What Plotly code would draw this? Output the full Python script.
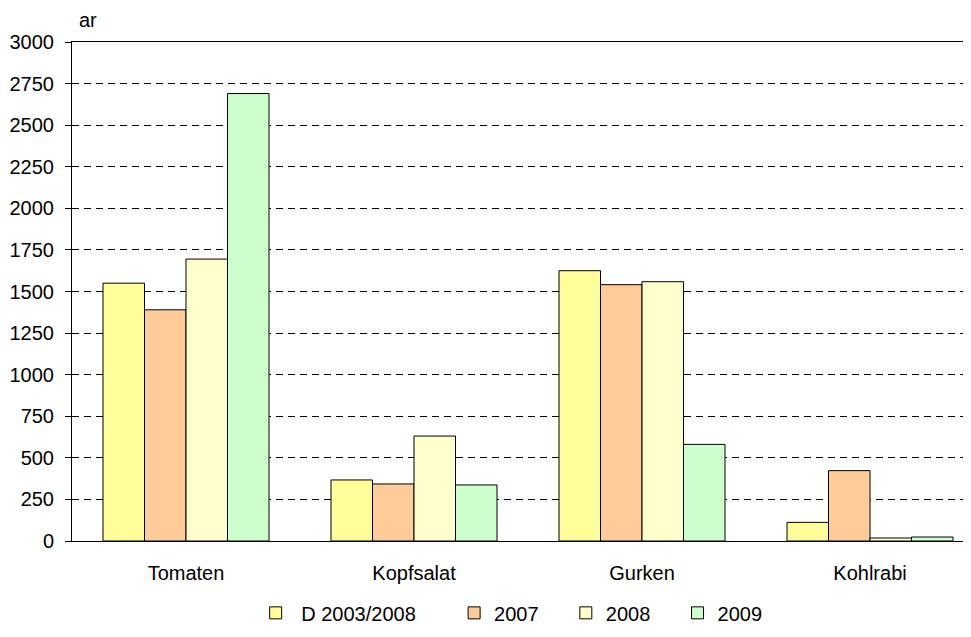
import plotly.graph_objects as go

categories = ["Tomaten", "Kopfsalat", "Gurken", "Kohlrabi"]
series_names = ["D 2003/2008", "2007", "2008", "2009"]
d_2003_2008 = [1550, 367, 1625, 112]
y_2007 = [1390, 343, 1541, 423]
y_2008 = [1695, 631, 1559, 18]
y_2009 = [2690, 337, 581, 24]
y_ticks = [0, 250, 500, 750, 1000, 1250, 1500, 1750, 2000, 2250, 2500, 2750, 3000]

colors = ["#FFFF99", "#FFCC99", "#FFFFCC", "#CCFFCC"]
pad_before = [1, 0, 0, 0]
pad_after = [6, 4, 4, 0]
labels = ["\u00a0" * b + n + "\u00a0" * a for n, b, a in zip(series_names, pad_before, pad_after)]
series_values = [d_2003_2008, y_2007, y_2008, y_2009]

fig = go.Figure()
for lab, vals, col in zip(labels, series_values, colors):
    fig.add_trace(go.Bar(
        x=categories, y=vals, name=lab,
        marker=dict(color=col, line=dict(color="black", width=1)),
    ))

font_family = "Liberation Sans, Arial, sans-serif"
fig.update_layout(
    width=971, height=637,
    margin=dict(l=64, r=0, t=34, b=104),
    plot_bgcolor="white", paper_bgcolor="white",
    barmode="group", bargap=0.272, bargroupgap=0,
    font=dict(family=font_family, size=20, color="black"),
    showlegend=True,
    legend=dict(orientation="h", x=0.2025, xanchor="left", y=-0.144, yanchor="middle",
                font=dict(size=20), traceorder="normal"),
    xaxis=dict(range=[-0.5, 3.478], showline=True, linecolor="black", linewidth=1,
               mirror=True, showgrid=False, ticks="", ticklabelstandoff=14,
               tickfont=dict(size=20), automargin=False),
    yaxis=dict(range=[0, 3000], tickvals=y_ticks, showline=True, linecolor="black",
               linewidth=1, ticks="outside", ticklen=6, tickcolor="black",
               showgrid=True, gridcolor="black", gridwidth=1, griddash="7px,5px",
               zeroline=False, tickfont=dict(size=20), ticklabelstandoff=7,
               automargin=False),
    annotations=[dict(text="ar", xref="paper", yref="paper", x=0.0176, y=1.044,
                      xanchor="center", yanchor="middle", showarrow=False,
                      font=dict(size=20))],
)

fig.write_html("out.html")
